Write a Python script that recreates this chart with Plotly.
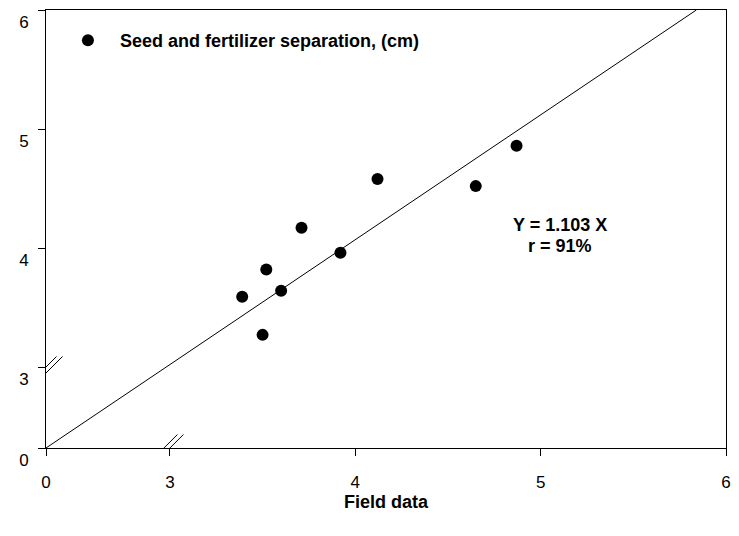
import plotly.graph_objects as go

# ---- data ----
field_x = [3.39, 3.52, 3.50, 3.60, 3.71, 3.92, 4.12, 4.65, 4.87]
model_y = [3.59, 3.82, 3.27, 3.64, 4.17, 3.96, 4.58, 4.52, 4.86]
series_name = "Seed and fertilizer separation, (cm)"
fit_x = [0, 5.84]          # drawn regression line endpoints (axis values)
fit_y = [0, 6.0]
x_ticks = [0, 3, 4, 5, 6]
y_ticks = [0, 3, 4, 5, 6]
eq_lines = ["Y = 1.103 X", "r = 91%"]
x_title = "Field data"

# ---- broken-axis transform (0 .. 3 compressed) ----
BREAK = 3.0
X0 = 3 - 125 / 187
Y0 = 3 - 81 / 119


def tx(v):
    return v if v >= BREAK else X0 + v * (BREAK - X0) / BREAK


def ty(v):
    return v if v >= BREAK else Y0 + v * (BREAK - Y0) / BREAK


font = "Liberation Sans, Arial, sans-serif"

fig = go.Figure()
fig.add_trace(go.Scatter(
    x=[tx(v) for v in fit_x], y=[ty(v) for v in fit_y], mode="lines",
    line=dict(color="black", width=1), showlegend=False, hoverinfo="skip"))
fig.add_trace(go.Scatter(
    x=[tx(v) for v in field_x], y=[ty(v) for v in model_y], mode="markers",
    marker=dict(color="black", size=12), name=series_name))

# equation text
for txt, yv in zip(eq_lines, [4.19, 4.02]):
    fig.add_annotation(x=tx(5.107), y=ty(yv), text=f"<b>{txt}</b>", showarrow=False,
                       xanchor="center", yanchor="middle",
                       font=dict(family=font, size=18, color="black"))


# break marks
def brk(xa, ya):
    out = [dict(type="path", xref="x", yref="y", xsizemode="pixel", ysizemode="pixel",
                xanchor=xa, yanchor=ya,
                path="M -16,-13.5 L -10,-13.5 L 16,13.5 L 10,13.5 Z",
                fillcolor="white", line=dict(width=0), layer="above")]
    for off in (-3, 3):
        out.append(dict(type="path", xref="x", yref="y", xsizemode="pixel", ysizemode="pixel",
                        xanchor=xa, yanchor=ya,
                        path=f"M {-13.5 + off},-13.5 L {13.5 + off},13.5",
                        line=dict(color="black", width=1), layer="above"))
    return out


shapes = brk(tx(3) - 3 / 187, ty(0)) + brk(tx(0), ty(3) - 3 / 119)

fig.update_layout(
    width=739, height=536,
    margin=dict(l=46, r=8, t=10, b=88),
    plot_bgcolor="white", paper_bgcolor="white",
    font=dict(family=font, size=17, color="black"),
    showlegend=True,
    shapes=shapes,
    legend=dict(x=(56 - 46) / 685, y=1 - (22 - 10) / 438, xanchor="left", yanchor="top",
                bgcolor="rgba(0,0,0,0)", itemwidth=54,
                font=dict(family=font, size=18, color="black", weight="bold")),
    xaxis=dict(range=[X0, 6], tickvals=[tx(v) for v in x_ticks],
               ticktext=[str(v) for v in x_ticks], ticks="outside", ticklen=7,
               tickcolor="black", showgrid=False, zeroline=False, showline=True,
               linecolor="black", linewidth=1, mirror=True, ticklabelstandoff=12,
               tickfont=dict(family=font, size=17, color="black"),
               title=dict(text=f"<b>{x_title}</b>", standoff=0,
                          font=dict(family=font, size=18, color="black"))),
    yaxis=dict(range=[Y0, 6], tickvals=[ty(v) for v in y_ticks],
               ticktext=[str(v) for v in y_ticks], ticks="outside", ticklen=7,
               tickcolor="black", showgrid=False, zeroline=False, showline=True,
               linecolor="black", linewidth=1, mirror=True, ticklabelstandoff=13,
               ticklabelposition="outside bottom",
               tickfont=dict(family=font, size=17, color="black")),
)
fig.write_html("out.html")
